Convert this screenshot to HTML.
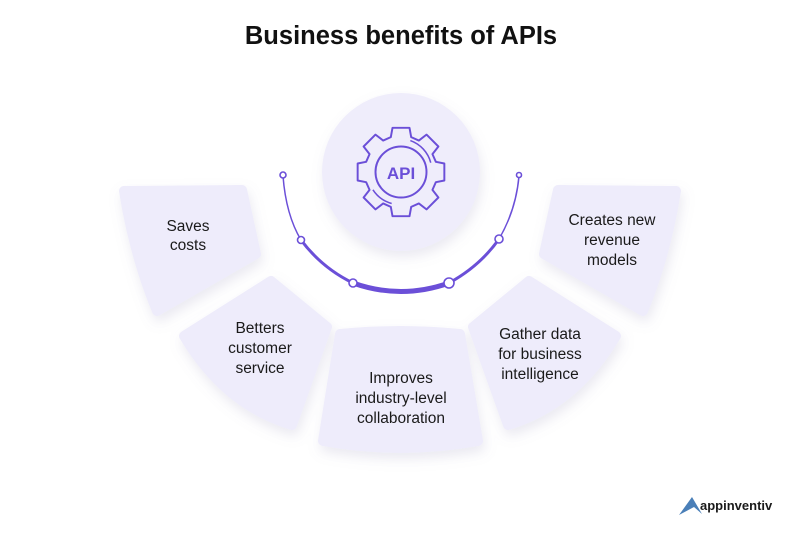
<!DOCTYPE html>
<html><head><meta charset="utf-8"><style>
html,body{margin:0;padding:0;background:#fff;}
body{width:801px;height:540px;overflow:hidden;}
svg text{font-family:"Liberation Sans",sans-serif;}
</style></head><body>
<svg width="801" height="540" viewBox="0 0 801 540" xmlns="http://www.w3.org/2000/svg">
<defs>
<filter id="sh" x="-30%" y="-30%" width="160%" height="160%">
<feDropShadow dx="2" dy="6" stdDeviation="6" flood-color="#8a86b0" flood-opacity="0.18"/>
</filter>
</defs>
<text x="401" y="44" text-anchor="middle" font-size="25.5" font-weight="bold" fill="#111">Business benefits of APIs</text>

<g fill="#eeecfb" stroke="#eeecfb" stroke-width="10" stroke-linejoin="round" filter="url(#sh)">
<path d="M124 191 L242 190 L256 254 L157 311 Q134 255 124 191 Z"/>
<path d="M184 336 L271 281 L327 327 L292 425 Q225 405 184 336 Z"/>
<path d="M340 334 Q400 328 460 334 L478 441 Q400 455 323 441 Z"/>
<path d="M616 336 L529 281 L473 327 L508 425 Q575 405 616 336 Z"/>
<path d="M676 191 L558 190 L544 254 L643 311 Q666 255 676 191 Z"/>
</g>
<circle cx="401" cy="172" r="79" fill="#efedfb" filter="url(#sh)"/>

<g fill="none" stroke="#6b4fd8" stroke-linecap="round">
<path d="M283 176 Q286 215 301 240" stroke-width="1.5"/>
<path d="M301 240 Q322 268 353 283" stroke-width="3"/>
<path d="M353 283 Q401 300 449 283" stroke-width="5"/>
<path d="M449 283 Q480 266 499 239" stroke-width="3"/>
<path d="M499 239 Q516 210 519 176" stroke-width="1.5"/>
</g>
<g fill="#fff" stroke="#6b4fd8" stroke-width="1.6">
<circle cx="283" cy="175" r="3"/>
<circle cx="519" cy="175" r="2.5"/>
<circle cx="301" cy="240" r="3.5"/>
<circle cx="499" cy="239" r="4"/>
<circle cx="353" cy="283" r="4"/>
<circle cx="449" cy="283" r="5"/>
</g>

<g fill="none" stroke="#6b4fd8" stroke-width="2.3" stroke-linejoin="round" transform="translate(401,172) scale(0.85) translate(-401,-181)">
<path d="M391 129 L411 129 L413 140 L422 144 L431 137 L445 151 L438 160 L442 169 L452 171 L452 191 L442 193 L438 202 L445 211 L431 225 L422 218 L413 222 L411 233 L391 233 L389 222 L380 218 L371 225 L357 211 L364 202 L360 193 L350 191 L350 171 L360 169 L364 160 L357 151 L371 137 L380 144 L389 140 Z"/>
<circle cx="401" cy="181" r="30"/>
<path d="M412 144 A38 38 0 0 1 436 170" stroke-width="1.8"/>
<path d="M390 218 A38 38 0 0 1 368 202" stroke-width="1.8"/>
</g>
<text x="401" y="179" text-anchor="middle" font-size="17" font-weight="bold" fill="#6b4fd8">API</text>

<g font-size="15.5" fill="#1a1a1a" text-anchor="middle">
<text x="188" y="231">Saves</text><text x="188" y="250">costs</text>
<text x="260" y="333">Betters</text><text x="260" y="353">customer</text><text x="260" y="373">service</text>
<text x="401" y="383">Improves</text><text x="401" y="403">industry-level</text><text x="401" y="423">collaboration</text>
<text x="540" y="339">Gather data</text><text x="540" y="359">for business</text><text x="540" y="379">intelligence</text>
<text x="612" y="225">Creates new</text><text x="612" y="245">revenue</text><text x="612" y="265">models</text>
</g>

<path d="M679 515 L692 497 L702 514 L694 507 Z" fill="#4a7fb8"/>
<text x="700" y="510" font-size="13" font-weight="bold" fill="#1a1a1a">appinventiv</text>
</svg>
</body></html>
